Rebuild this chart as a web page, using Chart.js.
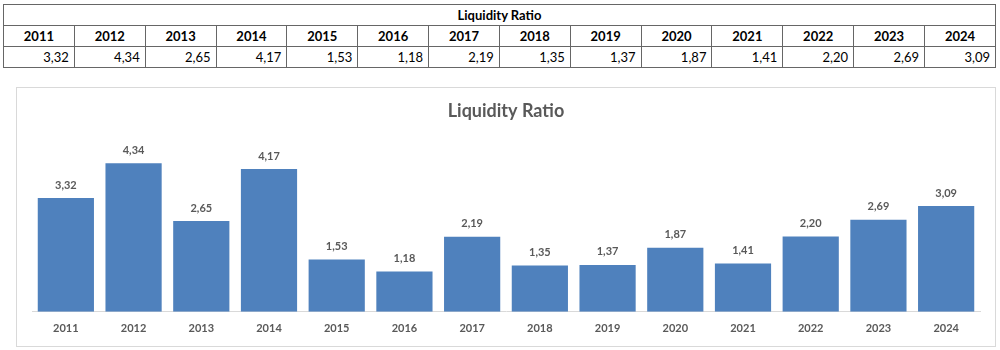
<!DOCTYPE html>
<html lang="en">
<head>
    <meta charset="UTF-8">
    <title>Liquidity Ratio</title>
    <script src="https://cdn.jsdelivr.net/npm/chart.js"></script>
    <style>
    body {
        margin: 0;
        padding: 0;
        background: #fff;
        font-family: Lato, "Open Sans", sans-serif;
        width: 1000px;
        height: 350px;
        position: relative;
        overflow: hidden;
    }
    table {
        position: absolute;
        left: 3px;
        top: 4px;
        width: 993px;
        border-collapse: collapse;
        table-layout: fixed;
        font-size: 13px;
        color: #000;
    }
    td {
        border: 1px solid #666;
        padding: 0 5px;
        height: 20px;
        line-height: 20px;
    }
    .title-row td {
        text-align: center;
        font-weight: bold;
    }
    .head-row td {
        text-align: center;
        font-weight: bold;
    }
    .val-row td {
        text-align: right;
    }
    .chart-box {
        position: absolute;
        left: 16px;
        top: 87px;
        width: 978px;
        height: 258px;
        border: 1px solid #d9d9d9;
    }
    </style>
</head>
<body>
    <table id="data-table">
        <tr class="title-row"><td colspan="14">Liquidity Ratio</td></tr>
        <tr class="head-row" id="head-row"></tr>
        <tr class="val-row" id="val-row"></tr>
    </table>
    <div class="chart-box">
        <canvas id="ratio-chart" width="978" height="258"></canvas>
    </div>

    <script>
        // data
        const years = ['2011', '2012', '2013', '2014', '2015', '2016', '2017', '2018', '2019', '2020', '2021', '2022', '2023', '2024'];
        const ratios = [3.32, 4.34, 2.65, 4.17, 1.53, 1.18, 2.19, 1.35, 1.37, 1.87, 1.41, 2.20, 2.69, 3.09];

        const fmt = v => v.toFixed(2).replace('.', ',');

        // table rows
        const headRow = document.getElementById('head-row');
        const valRow = document.getElementById('val-row');
        years.forEach((y, i) => {
            const th = document.createElement('td');
            th.textContent = y;
            headRow.appendChild(th);
            const td = document.createElement('td');
            td.textContent = fmt(ratios[i]);
            valRow.appendChild(td);
        });

        // value labels above bars
        const barLabels = {
            id: 'barLabels',
            afterDatasetsDraw(chart) {
                const ctx = chart.ctx;
                const meta = chart.getDatasetMeta(0);
                ctx.save();
                ctx.font = 'bold 11px Lato, "Open Sans", sans-serif';
                ctx.fillStyle = '#595959';
                ctx.textAlign = 'center';
                ctx.textBaseline = 'middle';
                meta.data.forEach((bar, i) => {
                    ctx.fillText(fmt(ratios[i]), bar.x, bar.y - 13);
                });
                ctx.restore();
            }
        };

        new Chart(document.getElementById('ratio-chart'), {
            type: 'bar',
            data: {
                labels: years,
                datasets: [{
                    label: 'Liquidity Ratio',
                    data: ratios,
                    backgroundColor: '#4f81bd',
                    borderWidth: 0,
                    barPercentage: 1,
                    categoryPercentage: 0.83
                }]
            },
            options: {
                responsive: false,
                animation: false,
                layout: { padding: { left: 15, right: 15, top: 0, bottom: 1 } },
                plugins: {
                    legend: { display: false },
                    tooltip: { enabled: false },
                    title: {
                        display: true,
                        text: 'Liquidity Ratio',
                        color: '#595959',
                        font: { family: 'Lato, "Open Sans", sans-serif', size: 18, weight: 'bold' },
                        padding: { top: 12, bottom: 19 }
                    }
                },
                scales: {
                    x: {
                        grid: { display: false, drawTicks: false },
                        border: { display: true, color: '#d9d9d9', width: 1 },
                        ticks: {
                            color: '#595959',
                            padding: 10,
                            font: { family: 'Lato, "Open Sans", sans-serif', size: 11, weight: 'bold' }
                        }
                    },
                    y: {
                        display: false,
                        min: 0,
                        max: 5
                    }
                }
            },
            plugins: [barLabels]
        });
    </script>
</body>
</html>
